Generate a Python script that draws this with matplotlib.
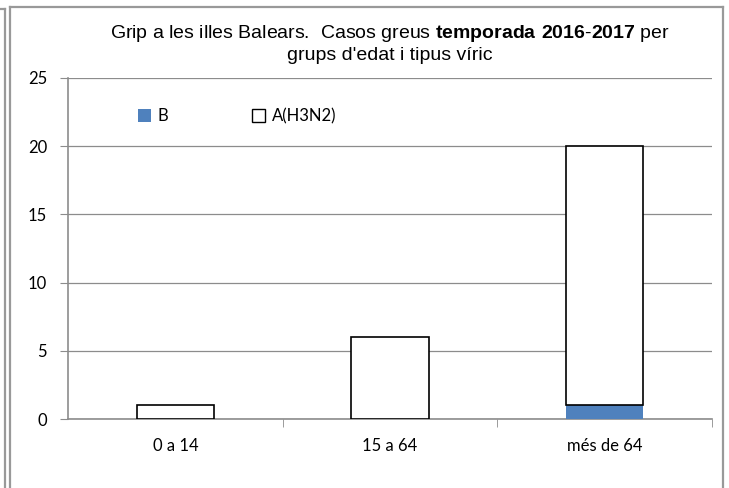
import matplotlib
matplotlib.use("Agg")
import matplotlib.pyplot as plt
from matplotlib.lines import Line2D
from matplotlib.patches import Patch
import numpy as np

categories = ["0 a 14", "15 a 64", "més de 64"]
cases_b = [0, 0, 1]
cases_h3n2 = [1, 6, 19]
y_ticks = [0, 5, 10, 15, 20, 25]

LABEL_FONT = ["Lato", "DejaVu Sans"]
TITLE_FONT = ["Liberation Sans", "DejaVu Sans"]
GRAY = "#8c8c8c"
BLUE = "#4f81bd"

plt.rcParams["mathtext.fontset"] = "custom"
plt.rcParams["mathtext.rm"] = "Liberation Sans"
plt.rcParams["mathtext.bf"] = "Liberation Sans:bold"

fig = plt.figure(figsize=(7.29, 4.88), dpi=100)
ax = fig.add_axes([68 / 729, 1 - 419 / 488, 644 / 729, 341 / 488])

x = np.arange(len(categories))
ax.bar(x, cases_b, width=0.36, color=BLUE, edgecolor="none", zorder=3)
ax.bar(x, cases_h3n2, width=0.36, bottom=cases_b, color="white",
       edgecolor="black", linewidth=1.2, zorder=3)

ax.set_xlim(-0.5, 2.5)
ax.set_ylim(0, 25)
ax.set_yticks(y_ticks)
ax.set_xticks(x)
ax.set_xticklabels(categories, family=LABEL_FONT, fontsize=12)
for lbl in ax.get_yticklabels():
    lbl.set_family(LABEL_FONT)
    lbl.set_fontsize(12)
ax.tick_params(axis="x", length=0, pad=14)
ax.tick_params(axis="y", length=6, color=GRAY, pad=9)
# category-boundary ticks on x axis
ax.set_xticks([0.5, 1.5, 2.5], minor=True)
ax.tick_params(axis="x", which="minor", length=6, color=GRAY, direction="out")

ax.yaxis.grid(True, color=GRAY, linewidth=0.9, zorder=0)
ax.set_axisbelow(True)
for side in ["top", "right"]:
    ax.spines[side].set_visible(False)
for side in ["left", "bottom"]:
    ax.spines[side].set_color(GRAY)
    ax.spines[side].set_linewidth(1.2)

handles = [
    Patch(facecolor=BLUE, edgecolor="none", label="B"),
    Patch(facecolor="white", edgecolor="black", linewidth=1, label="A(H3N2)"),
]
ax.legend(handles=handles, ncol=2, frameon=False, loc="upper left",
          bbox_to_anchor=(0.085, 0.955), columnspacing=5.0,
          handlelength=0.8, handleheight=0.8, handletextpad=0.4,
          prop={"family": LABEL_FONT, "size": 12})

fig.text(390 / 729, 1 - 33 / 488,
         "Grip a les illes Balears.  Casos greus $\\mathbf{temporada\\ 2016}$-$\\mathbf{2017}$ per",
         ha="center", va="center", fontsize=14, family=TITLE_FONT)
fig.text(390 / 729, 1 - 55 / 488, "grups d'edat i tipus víric",
         ha="center", va="center", fontsize=14, family=TITLE_FONT)

# outer frame lines
def fline(xs, ys):
    fig.add_artist(Line2D([v / 729 for v in xs], [1 - v / 488 for v in ys],
                          color="#999999", linewidth=1.6))

fline([10, 723], [7, 7])
fline([10, 10], [7, 488])
fline([723, 723], [7, 488])
fline([0, 5], [9, 9])
fline([5, 5], [9, 488])

fig.savefig("out.png", dpi=100)
